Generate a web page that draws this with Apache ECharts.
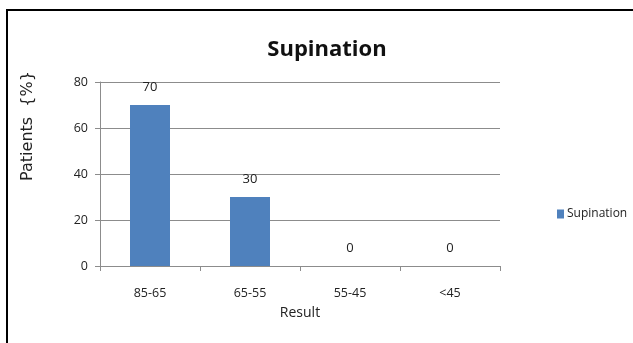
<!DOCTYPE html>
<html>
<head>
<meta charset="utf-8">
<script src="https://cdn.jsdelivr.net/npm/echarts@6/dist/echarts.min.js"></script>
<style>
  html, body { margin: 0; padding: 0; background: #fff; }
  #chart { width: 633px; height: 343px; }
</style>
</head>
<body>
<div id="chart"></div>
<script>
// Supination results by range
const categories = ['85-65', '65-55', '55-45', '<45'];
const supination = [70, 30, 0, 0];
const yTicks = [0, 20, 40, 60, 80];

const chart = echarts.init(document.getElementById('chart'), null, { renderer: 'canvas' });

chart.setOption({
  animation: false,
  backgroundColor: '#fff',
  title: {
    text: 'Supination',
    left: 322,
    top: 34,
    textAlign: 'center',
    textStyle: { fontFamily: 'Open Sans', fontSize: 22, fontWeight: 'bold', color: '#111' }
  },
  legend: {
    data: ['Supination'],
    left: 552,
    top: 203,
    itemWidth: 7,
    itemHeight: 9,
    itemGap: 4,
    icon: 'rect',
    textStyle: { fontFamily: 'Open Sans', fontSize: 12, color: '#222', padding: [0, 0, 0, -2] }
  },
  grid: { left: 100, right: 133, top: 82, bottom: 77, containLabel: false, outerBoundsMode: 'none' },
  xAxis: {
    type: 'category',
    data: categories,
    name: 'Result',
    nameLocation: 'middle',
    nameGap: 40,
    nameTextStyle: { fontFamily: 'Open Sans', fontSize: 14, color: '#222' },
    axisLine: { lineStyle: { color: '#8c8c8c', width: 1 } },
    axisTick: { show: true, alignWithLabel: false, length: 5, lineStyle: { color: '#8c8c8c' } },
    axisLabel: { fontFamily: 'Open Sans', fontSize: 12.5, color: '#222', margin: 21 }
  },
  yAxis: {
    type: 'value',
    min: yTicks[0],
    max: yTicks[yTicks.length - 1],
    interval: 20,
    name: 'Patients  {%}',
    nameLocation: 'middle',
    nameRotate: 90,
    nameGap: 64,
    nameTextStyle: { fontFamily: 'DejaVu Sans', fontSize: 16, color: '#222', padding: [0, 0, 0, 96] },
    axisLine: { show: true, lineStyle: { color: '#8c8c8c', width: 1 } },
    axisTick: { show: true, length: 5, lineStyle: { color: '#8c8c8c' } },
    axisLabel: { fontFamily: 'Open Sans', fontSize: 12.5, color: '#222', margin: 12 },
    splitLine: { show: true, lineStyle: { color: '#8c8c8c', width: 1 } }
  },
  series: [{
    name: 'Supination',
    type: 'bar',
    data: supination,
    barWidth: 40,
    itemStyle: { color: '#4F81BD' },
    label: {
      show: true,
      position: 'top',
      distance: 11,
      fontFamily: 'Open Sans',
      fontSize: 13,
      color: '#222'
    }
  }],
  graphic: [{
    type: 'rect',
    shape: { x: 7, y: 10, width: 640, height: 350 },
    style: { fill: 'none', stroke: '#000', lineWidth: 2 },
    silent: true
  }]
});
</script>
</body>
</html>
